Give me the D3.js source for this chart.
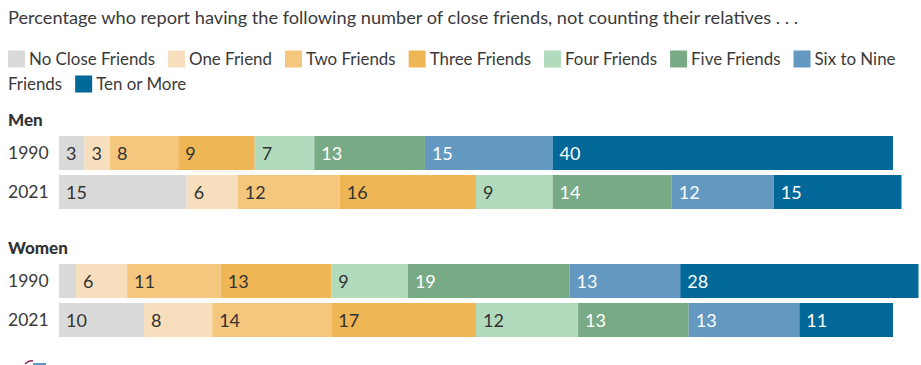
<!DOCTYPE html>
<html><head><meta charset="utf-8">
<script src="https://cdn.jsdelivr.net/npm/d3@7"></script>
<style>
html,body{margin:0;padding:0;background:#fff;}
svg{display:block;font-family:Lato,"Open Sans",sans-serif;}
</style></head>
<body><svg id="chart" width="921" height="365"></svg>
<script>
const title = "Percentage who report having the following number of close friends, not counting their relatives . . .";
const categories = ["No Close Friends","One Friend","Two Friends","Three Friends","Four Friends","Five Friends","Six to Nine Friends","Ten or More"];
const colors = ["#dadada","#f7dfbe","#f5c77e","#efb655","#b2dbbd","#78aa86","#6399c1","#016898"];
const labelColors = ["#333","#333","#333","#333","#333","#fff","#fff","#fff"];
const groups = ["Men","Women"];
const years = ["1990","2021"];
const men1990 = [3,3,8,9,7,13,15,40];
const men2021 = [15,6,12,16,9,14,12,15];
const women1990 = [2,6,11,13,9,19,13,28];
const women2021 = [10,8,14,17,12,13,13,11];

const rows = [
  {group:"Men", year:"1990", values:men1990},
  {group:"Men", year:"2021", values:men2021},
  {group:"Women", year:"1990", values:women1990},
  {group:"Women", year:"2021", values:women2021}
];

const svg = d3.select("#chart");
const textColor = "#3a3a3a";

svg.append("text").attr("x",8).attr("y",24).attr("font-size",18.2).attr("fill",textColor).text(title);

// legend with HTML-like flow wrap
const legend = svg.append("g");
const lfs = 16.9;
const maxRight = 905, lx0 = 8, sw = 17;
let lx = lx0, ly = 59, lineH = 25;
const measure = svg.append("text").attr("font-size",lfs).attr("visibility","hidden");
function tw(s){ measure.text(s); return measure.node().getComputedTextLength(); }
categories.forEach((c,i)=>{
  if (lx + sw + 4 + tw(c.split(" ")[0]) > maxRight) { lx = lx0; ly += lineH; }
  legend.append("rect").attr("x",lx).attr("y",ly-8.5).attr("width",sw).attr("height",sw).attr("fill",colors[i]);
  lx += sw + 4;
  const words = c.split(" ");
  let line = "";
  words.forEach(w=>{
    const cand = line ? line + " " + w : w;
    if (lx + tw(cand) > maxRight && line) {
      legend.append("text").attr("x",lx).attr("y",ly+6).attr("font-size",lfs).attr("fill",textColor).text(line);
      lx = lx0; ly += lineH; line = w;
    } else line = cand;
  });
  legend.append("text").attr("x",lx).attr("y",ly+6).attr("font-size",lfs).attr("fill",textColor).text(line);
  lx += tw(line) + 13;
});
measure.remove();

const x = d3.scaleLinear().domain([0,100]).range([59,910]);
const rowY = [136,175,264,303];
const barH = 34;

svg.append("text").attr("x",8).attr("y",126).attr("font-size",17).attr("font-weight",900).attr("fill","#333").text(groups[0]);
svg.append("text").attr("x",8).attr("y",254).attr("font-size",17).attr("font-weight",900).attr("fill","#333").text(groups[1]);

rows.forEach((r,ri)=>{
  const g = svg.append("g").attr("transform",`translate(0,${rowY[ri]})`);
  g.append("text").attr("x",8).attr("y",barH/2+6).attr("font-size",17.5).attr("fill",textColor).text(r.year);
  const stack = d3.cumsum(r.values);
  const segs = r.values.map((v,i)=>({v,i,x0:stack[i]-v,x1:stack[i]}));
  g.selectAll("rect").data(segs).join("rect")
    .attr("x",d=>x(d.x0)).attr("width",d=>x(d.x1)-x(d.x0))
    .attr("y",0).attr("height",barH).attr("fill",d=>colors[d.i]);
  g.selectAll("text.v").data(segs.filter(d=>d.v>=3)).join("text").attr("class","v")
    .attr("x",d=>x(d.x0)+7).attr("y",barH/2+6.5).attr("font-size",18)
    .attr("fill",d=>labelColors[d.i]).text(d=>d.v);
});

// logo fragment at bottom
svg.append("path").attr("d","M25,364 Q29,360 33,361").attr("stroke","#9b2a5a").attr("stroke-width",1.5).attr("fill","none");
svg.append("path").attr("d","M33,364 L46,364").attr("stroke","#1f77b4").attr("stroke-width",1.5).attr("fill","none");
</script></body></html>
